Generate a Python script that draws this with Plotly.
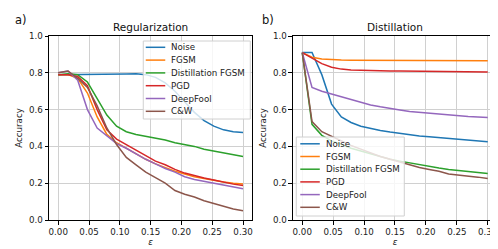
import plotly.graph_objects as go

eps = [0.0, 0.0158, 0.0316, 0.0474, 0.0632, 0.0789, 0.0947, 0.1105, 0.1263, 0.1421,
       0.1579, 0.1737, 0.1895, 0.2053, 0.2211, 0.2368, 0.2526, 0.2684, 0.2842, 0.3]

names = ["Noise", "FGSM", "Distillation FGSM", "PGD", "DeepFool", "C&W"]
colors = ["#1f77b4", "#ff7f0e", "#2ca02c", "#d62728", "#9467bd", "#8c564b"]

# a) Regularization
reg_noise = [0.79, 0.79, 0.79, 0.79, 0.792, 0.792, 0.793, 0.794, 0.795, 0.79,
             0.775, 0.745, 0.70, 0.64, 0.585, 0.54, 0.51, 0.49, 0.48, 0.475]
reg_fgsm = [0.79, 0.79, 0.77, 0.69, 0.56, 0.465, 0.42, 0.39, 0.36, 0.33,
            0.305, 0.285, 0.265, 0.25, 0.235, 0.225, 0.215, 0.207, 0.20, 0.195]
reg_dist = [0.79, 0.795, 0.79, 0.75, 0.66, 0.57, 0.51, 0.48, 0.465, 0.455,
            0.445, 0.435, 0.42, 0.41, 0.40, 0.385, 0.375, 0.365, 0.355, 0.345]
reg_pgd = [0.79, 0.79, 0.78, 0.73, 0.60, 0.49, 0.44, 0.41, 0.38, 0.35,
           0.32, 0.30, 0.275, 0.255, 0.24, 0.228, 0.217, 0.205, 0.195, 0.187]
reg_df = [0.80, 0.81, 0.76, 0.60, 0.50, 0.455, 0.415, 0.39, 0.36, 0.33,
          0.305, 0.28, 0.26, 0.235, 0.22, 0.21, 0.198, 0.187, 0.177, 0.17]
reg_cw = [0.80, 0.81, 0.77, 0.72, 0.62, 0.50, 0.41, 0.34, 0.30, 0.26,
          0.23, 0.20, 0.16, 0.14, 0.125, 0.105, 0.09, 0.075, 0.06, 0.05]

# b) Distillation
dis_noise = [0.91, 0.91, 0.79, 0.63, 0.56, 0.53, 0.51, 0.497, 0.487, 0.478,
             0.47, 0.463, 0.457, 0.452, 0.447, 0.442, 0.437, 0.433, 0.429, 0.425]
dis_fgsm = [0.91, 0.885, 0.875, 0.87, 0.869, 0.868, 0.868, 0.868, 0.868, 0.868,
            0.867, 0.867, 0.867, 0.867, 0.866, 0.866, 0.866, 0.866, 0.865, 0.865]
dis_dist = [0.91, 0.52, 0.46, 0.43, 0.41, 0.39, 0.375, 0.36, 0.345, 0.33,
            0.32, 0.31, 0.30, 0.29, 0.283, 0.275, 0.27, 0.265, 0.26, 0.253]
dis_pgd = [0.91, 0.88, 0.85, 0.83, 0.82, 0.815, 0.813, 0.812, 0.811, 0.81,
           0.81, 0.809, 0.809, 0.808, 0.808, 0.807, 0.807, 0.806, 0.806, 0.805]
dis_df = [0.91, 0.72, 0.70, 0.685, 0.67, 0.655, 0.64, 0.625, 0.615, 0.605,
          0.598, 0.59, 0.585, 0.58, 0.575, 0.57, 0.565, 0.562, 0.56, 0.557]
dis_cw = [0.91, 0.535, 0.48, 0.455, 0.43, 0.405, 0.385, 0.365, 0.345, 0.33,
          0.315, 0.30, 0.285, 0.275, 0.265, 0.25, 0.245, 0.24, 0.233, 0.225]

reg = [reg_noise, reg_fgsm, reg_dist, reg_pgd, reg_df, reg_cw]
dis = [dis_noise, dis_fgsm, dis_dist, dis_pgd, dis_df, dis_cw]

xticks = [0.0, 0.05, 0.10, 0.15, 0.20, 0.25, 0.30]
xticktext = ["0.00", "0.05", "0.10", "0.15", "0.20", "0.25", "0.30"]
yticks = [0.0, 0.2, 0.4, 0.6, 0.8, 1.0]
yticktext = ["0.0", "0.2", "0.4", "0.6", "0.8", "1.0"]

FONT = "DejaVu Sans"
FS = 8.7
fig = go.Figure()

for i in range(6):
    fig.add_trace(go.Scatter(x=eps, y=reg[i], mode="lines", name=names[i],
                             line=dict(color=colors[i], width=1.5),
                             xaxis="x", yaxis="y", showlegend=False))
for i in range(6):
    fig.add_trace(go.Scatter(x=eps, y=dis[i], mode="lines", name=names[i],
                             line=dict(color=colors[i], width=1.5),
                             xaxis="x2", yaxis="y2", showlegend=False))

axis_common = dict(showline=True, mirror=True, linecolor="black", linewidth=1,
                   ticks="outside", ticklen=3.5, tickwidth=1, tickcolor="black",
                   showgrid=True, gridcolor="#d0d0d0", gridwidth=1, zeroline=False,
                   tickfont=dict(family=FONT, size=FS, color="#222"))

fig.update_layout(
    width=498, height=249,
    margin=dict(l=41, r=9, t=28, b=37),
    paper_bgcolor="white", plot_bgcolor="white",
    font=dict(family=FONT, size=FS, color="#222"),
    xaxis=dict(domain=[0, 0.4537], range=[-0.015, 0.315], tickvals=xticks, ticktext=xticktext,
               anchor="y", title=dict(text="<i>ε</i>", standoff=1, font=dict(size=FS)), **axis_common),
    yaxis=dict(domain=[0, 1], range=[0, 1], tickvals=yticks, ticktext=yticktext,
               anchor="x", title=dict(text="Accuracy", standoff=4, font=dict(size=FS)), **axis_common),
    xaxis2=dict(domain=[0.5446, 1], range=[-0.015, 0.315], tickvals=xticks, ticktext=xticktext,
                anchor="y2", title=dict(text="<i>ε</i>", standoff=1, font=dict(size=FS)), **axis_common),
    yaxis2=dict(domain=[0, 1], range=[0, 1], tickvals=yticks, ticktext=yticktext,
                anchor="x2", title=dict(text="Accuracy", standoff=4, font=dict(size=FS)), **axis_common),
)

annotations = [
    dict(text="Regularization", xref="x domain", yref="y domain", x=0.5, y=1.0,
         xanchor="center", yanchor="bottom", yshift=1, showarrow=False, font=dict(size=10.5, color="#111")),
    dict(text="Distillation", xref="x2 domain", yref="y2 domain", x=0.5, y=1.0,
         xanchor="center", yanchor="bottom", yshift=1, showarrow=False, font=dict(size=10.5, color="#111")),
    dict(text="a)", xref="paper", yref="paper", x=-0.08, y=1.087, xanchor="left", yanchor="middle",
         showarrow=False, font=dict(size=11.5, color="#111")),
    dict(text="b)", xref="paper", yref="paper", x=0.4716, y=1.087, xanchor="left", yanchor="middle",
         showarrow=False, font=dict(size=11.5, color="#111")),
]
shapes = []

# custom legends (matplotlib-style compact boxes)
def add_legend(xr, yr, box, line_x, text_x, ys):
    shapes.append(dict(type="rect", xref=xr, yref=yr, x0=box[0], x1=box[1], y0=box[2], y1=box[3],
                       line=dict(color="#d0d0d0", width=1), fillcolor="rgba(255,255,255,0.8)", layer="above"))
    for i in range(6):
        shapes.append(dict(type="line", xref=xr, yref=yr, x0=line_x[0], x1=line_x[1], y0=ys[i], y1=ys[i],
                           line=dict(color=colors[i], width=1.5), layer="above"))
        annotations.append(dict(text=names[i], xref=xr, yref=yr, x=text_x, y=ys[i], xanchor="left",
                                yanchor="middle", showarrow=False, font=dict(size=FS, color="#222")))

def dy(p):
    return (212 - p) / 184

def dxl(p):
    return (p - 40.75) / 203.25

def dxr(p):
    return (p - 284.7) / 204

add_legend("x domain", "y domain", [dxl(135), dxl(242), dy(111), dy(33)], [dxl(137.5), dxl(157)], dxl(161),
           [dy(39.3 + 12.8 * k) for k in range(6)])
add_legend("x2 domain", "y2 domain", [dxr(288), dxr(396), dy(208), dy(129)], [dxr(292), dxr(311.5)], dxr(315.5),
           [dy(135.8 + 12.7 * k) for k in range(6)])

fig.update_layout(annotations=annotations, shapes=shapes)
fig.write_html("out.html")
